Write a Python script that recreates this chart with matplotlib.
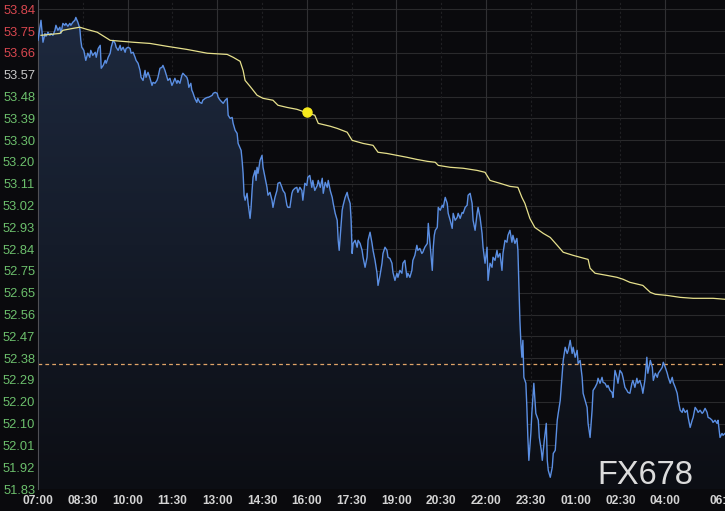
import matplotlib
matplotlib.use("Agg")
import matplotlib.pyplot as plt
import numpy as np
from matplotlib.colors import LinearSegmentedColormap

# minutes after 07:00 and price for the intraday line
t_min = [0, 6, 10, 14, 16, 20, 24, 26, 30, 34, 36, 40, 44, 46, 50, 54, 56, 60, 64, 66,
         70, 74, 76, 80, 84, 86, 88, 92, 96, 100, 104, 106, 110, 115, 117, 121, 125, 127, 131, 135,
         137, 141, 145, 147, 151, 155, 157, 161, 165, 167, 171, 175, 177, 181, 185, 187, 191, 195, 197, 201,
         205, 207, 211, 215, 217, 221, 225, 229, 231, 235, 239, 241, 245, 249, 251, 255, 259, 261, 265, 269,
         271, 275, 279, 281, 285, 289, 291, 295, 299, 301, 303, 307, 309, 311, 315, 319, 321, 325, 329, 331,
         336, 340, 342, 346, 350, 352, 356, 360, 362, 366, 370, 372, 376, 380, 382, 386, 390, 392, 396, 400,
         402, 406, 408, 410, 412, 414, 416, 420, 422, 426, 428, 430, 432, 436, 438, 440, 442, 446, 450, 452,
         456, 460, 462, 466, 470, 472, 476, 480, 482, 486, 490, 492, 496, 500, 502, 506, 510, 512, 516, 520,
         522, 526, 530, 532, 536, 540, 542, 546, 550, 552, 556, 561, 563, 567, 571, 573, 577, 581, 583, 587,
         591, 593, 597, 601, 603, 605, 607, 611, 613, 617, 621, 623, 627, 629, 631, 633, 637, 641, 643, 647,
         651, 653, 657, 661, 663, 667, 671, 673, 677, 681, 683, 687, 691, 693, 697, 701, 703, 707, 711, 713,
         717, 721, 723, 727, 731, 733, 737, 741, 743, 747, 751, 753, 757, 761, 763, 767, 771, 773, 777, 782,
         784, 788, 792, 794, 796, 798, 802, 804, 808, 812, 814, 818, 822, 824, 828, 832, 834, 838, 842, 844,
         848, 852, 854, 858, 862, 864, 868, 872, 874, 878, 882, 884, 888, 892, 894, 898, 902, 904, 908, 912,
         914, 918, 922, 924, 928, 932, 934, 938, 942, 944, 948, 952, 954, 958, 962, 964, 966, 968, 970, 972,
         974, 976, 980, 982, 984, 986, 990, 992, 996, 1000, 1005, 1007, 1011, 1013, 1017, 1021, 1023, 1025, 1029, 1033,
         1035, 1039, 1043, 1045, 1049, 1053, 1055, 1059, 1063, 1065, 1069, 1073, 1075, 1079, 1083, 1085, 1089, 1093, 1095, 1099,
         1103, 1105, 1109, 1113, 1115, 1119, 1123, 1125, 1129, 1133, 1135, 1139, 1143, 1145, 1149, 1153, 1155, 1159, 1163, 1165,
         1169, 1173, 1175, 1179, 1183, 1185, 1189, 1193, 1195, 1199, 1203, 1205, 1209, 1213, 1215, 1219, 1223, 1225, 1230, 1234,
         1236, 1240, 1244, 1246, 1250, 1254, 1256, 1260, 1264, 1266, 1270, 1274, 1276, 1280, 1284, 1286, 1290, 1294, 1296, 1300,
         1304, 1306, 1310, 1314, 1316, 1320, 1324, 1326, 1330, 1334, 1336, 1340, 1344, 1346, 1350, 1354, 1356, 1360, 1364, 1366,
         1370, 1374, 1376, 1380]
price = [53.710, 53.794, 53.702, 53.739, 53.727, 53.744, 53.731, 53.739, 53.731, 53.752, 53.773, 53.752, 53.765, 53.739, 53.781, 53.773, 53.781, 53.769, 53.781, 53.773,
         53.786, 53.794, 53.806, 53.786, 53.760, 53.710, 53.681, 53.668, 53.626, 53.656, 53.639, 53.668, 53.647, 53.660, 53.639, 53.676, 53.689, 53.593, 53.605, 53.626,
         53.614, 53.639, 53.656, 53.681, 53.710, 53.697, 53.681, 53.668, 53.689, 53.668, 53.681, 53.660, 53.676, 53.681, 53.676, 53.656, 53.660, 53.639, 53.626, 53.614,
         53.584, 53.555, 53.542, 53.584, 53.555, 53.576, 53.551, 53.521, 53.534, 53.530, 53.542, 53.555, 53.593, 53.597, 53.605, 53.584, 53.555, 53.542, 53.551, 53.521,
         53.530, 53.551, 53.530, 53.542, 53.530, 53.563, 53.572, 53.563, 53.555, 53.542, 53.513, 53.530, 53.501, 53.492, 53.467, 53.450, 53.467, 53.450, 53.446, 53.459,
         53.467, 53.471, 53.471, 53.475, 53.480, 53.488, 53.492, 53.488, 53.471, 53.459, 53.450, 53.446, 53.459, 53.467, 53.396, 53.383, 53.387, 53.362, 53.333, 53.320,
         53.278, 53.258, 53.249, 53.207, 53.153, 53.061, 53.040, 53.069, 53.027, 52.964, 53.010, 53.081, 53.136, 53.165, 53.123, 53.178, 53.153, 53.207, 53.228, 53.178,
         53.136, 53.094, 53.061, 53.073, 53.040, 53.010, 53.052, 53.081, 53.111, 53.115, 53.094, 53.081, 53.069, 53.019, 53.010, 53.010, 53.069, 53.081, 53.090, 53.094,
         53.073, 53.094, 53.081, 53.040, 53.111, 53.102, 53.136, 53.144, 53.094, 53.123, 53.081, 53.102, 53.123, 53.094, 53.132, 53.069, 53.115, 53.094, 53.123, 53.081,
         53.052, 53.027, 52.985, 52.956, 52.872, 52.830, 52.884, 52.998, 53.019, 53.052, 53.073, 53.052, 53.027, 52.956, 52.817, 52.859, 52.872, 52.843, 52.872, 52.859,
         52.830, 52.801, 52.759, 52.801, 52.872, 52.906, 52.859, 52.830, 52.788, 52.734, 52.683, 52.725, 52.776, 52.817, 52.843, 52.830, 52.801, 52.796, 52.776, 52.738,
         52.704, 52.734, 52.717, 52.746, 52.734, 52.776, 52.788, 52.717, 52.734, 52.717, 52.746, 52.788, 52.809, 52.851, 52.830, 52.838, 52.817, 52.822, 52.843, 52.859,
         52.943, 52.843, 52.746, 52.843, 52.893, 52.914, 52.926, 53.010, 52.998, 53.019, 53.010, 53.052, 53.027, 52.985, 52.956, 52.922, 52.985, 52.956, 52.968, 52.985,
         52.964, 52.989, 52.985, 53.010, 53.019, 53.061, 53.069, 53.027, 52.956, 52.914, 52.985, 53.010, 52.968, 52.901, 52.843, 52.776, 52.843, 52.704, 52.776, 52.759,
         52.801, 52.788, 52.830, 52.801, 52.817, 52.746, 52.817, 52.872, 52.864, 52.893, 52.914, 52.864, 52.893, 52.859, 52.880, 52.830, 52.675, 52.537, 52.440, 52.382,
         52.453, 52.298, 52.273, 52.172, 52.046, 51.950, 52.063, 52.147, 52.273, 52.147, 52.118, 52.046, 51.992, 51.950, 52.034, 52.105, 51.950, 51.908, 51.879, 51.921,
         51.979, 51.992, 52.118, 52.147, 52.201, 52.315, 52.369, 52.424, 52.398, 52.411, 52.453, 52.398, 52.424, 52.382, 52.411, 52.356, 52.369, 52.298, 52.231, 52.201,
         52.172, 52.105, 52.046, 52.160, 52.243, 52.256, 52.273, 52.294, 52.273, 52.298, 52.277, 52.273, 52.256, 52.264, 52.243, 52.235, 52.214, 52.327, 52.298, 52.273,
         52.327, 52.315, 52.298, 52.256, 52.243, 52.235, 52.231, 52.273, 52.285, 52.256, 52.294, 52.273, 52.285, 52.256, 52.231, 52.285, 52.382, 52.315, 52.369, 52.340,
         52.285, 52.315, 52.298, 52.315, 52.327, 52.340, 52.361, 52.340, 52.315, 52.298, 52.273, 52.298, 52.277, 52.256, 52.231, 52.201, 52.160, 52.151, 52.168, 52.151,
         52.160, 52.130, 52.088, 52.118, 52.130, 52.172, 52.160, 52.151, 52.160, 52.147, 52.151, 52.168, 52.151, 52.130, 52.126, 52.118, 52.109, 52.118, 52.105, 52.118,
         52.046, 52.063, 52.055, 52.063]

# average-price line
ma_min = [6, 44, 50, 70, 84, 98, 119, 139, 145, 191, 225, 259, 299, 340, 380, 392, 406, 412, 416, 426,
          440, 452, 472, 482, 500, 520, 538, 556, 563, 587, 601, 621, 631, 653, 673, 683, 701, 721, 741, 761,
          782, 798, 804, 828, 854, 882, 898, 908, 928, 948, 964, 972, 978, 988, 998, 1015, 1029, 1043, 1055, 1075,
          1089, 1105, 1109, 1119, 1143, 1163, 1175, 1189, 1215, 1230, 1240, 1264, 1290, 1316, 1356, 1380]
ma_val = [53.731, 53.739, 53.752, 53.760, 53.765, 53.756, 53.744, 53.718, 53.710, 53.702, 53.697, 53.685, 53.672, 53.656, 53.651, 53.639, 53.622, 53.584, 53.542, 53.517,
          53.480, 53.467, 53.459, 53.438, 53.429, 53.421, 53.408, 53.396, 53.362, 53.350, 53.341, 53.325, 53.291, 53.278, 53.270, 53.241, 53.236, 53.228, 53.220, 53.211,
          53.203, 53.199, 53.186, 53.178, 53.174, 53.165, 53.157, 53.123, 53.111, 53.098, 53.094, 53.052, 53.027, 52.964, 52.926, 52.901, 52.884, 52.851, 52.822, 52.809,
          52.801, 52.792, 52.755, 52.734, 52.725, 52.717, 52.709, 52.696, 52.683, 52.654, 52.646, 52.641, 52.633, 52.629, 52.629, 52.625]

dot_min, dot_val = 540, 53.408
prev_close = 52.352

y_labels = ["51.83", "51.92", "52.01", "52.10", "52.20", "52.29", "52.38", "52.47", "52.56", "52.65",
            "52.75", "52.84", "52.93", "53.02", "53.11", "53.20", "53.30", "53.39", "53.48", "53.57",
            "53.66", "53.75", "53.84"]
x_labels = ["07:00", "08:30", "10:00", "11:30", "13:00", "14:30", "16:00", "17:30", "19:00", "20:30",
            "22:00", "23:30", "01:00", "02:30", "04:00", "06:00"]
x_pos = [0, 90, 180, 270, 360, 450, 540, 630, 720, 810, 900, 990, 1080, 1170, 1260, 1380]

bg = "#0a0a0d"
fig = plt.figure(figsize=(7.25, 5.11), dpi=100, facecolor=bg)
ax = fig.add_axes([38 / 725, 22 / 511, 687 / 725, 489 / 511])
ax.set_facecolor(bg)
ymin, ymax = 51.83, 53.879
ax.set_xlim(0, 1380)
ax.set_ylim(ymin, ymax)

# grid
y_ticks = np.linspace(51.83, 53.84, len(y_labels))
for yv in y_ticks:
    ax.axhline(yv, color="#2a2a2c", lw=0.8, zorder=0)
for i, xv in enumerate(x_pos[:-1]):
    if i % 2 == 0:
        ax.axvline(xv, color="#303033", lw=0.8, zorder=0)
    else:
        ax.axvline(xv, color="#202023", lw=0.8, ls=(0, (2, 2)), zorder=0)

# gradient fill under the price line
poly = ax.fill_between(t_min, price, ymin, facecolor="none", edgecolor="none")
cmap = LinearSegmentedColormap.from_list("fill", ["#0c0e14", "#1e2a40"])
grad = np.linspace(0, 1, 256).reshape(-1, 1)
im = ax.imshow(grad, extent=[0, 1380, ymin, ymax], origin="lower", aspect="auto",
               cmap=cmap, zorder=1)
im.set_clip_path(poly.get_paths()[0], transform=ax.transData)

ax.plot(t_min, price, color="#5b8fe3", lw=1.0, zorder=3)
ax.plot(ma_min, ma_val, color="#e6e08c", lw=0.9, zorder=3)
ax.plot([dot_min], [dot_val], "o", color="#f7ea1c", ms=6.5, zorder=4)
ax.axhline(prev_close, color="#e0a468", lw=0.9, ls=(0, (3, 2.5)), zorder=2)

# axes styling
for s in ["top", "right", "bottom"]:
    ax.spines[s].set_visible(False)
ax.spines["left"].set_color("#505055")
ax.set_yticks(y_ticks)
ax.set_yticklabels(y_labels, fontsize=9.3, family="Liberation Sans")
ax.set_xticks(x_pos)
ax.set_xticklabels(x_labels, fontsize=8.6, family="Liberation Sans", fontweight="bold",
                   color="#d4d4d4")
ax.tick_params(axis="both", length=0)
ax.tick_params(axis="y", pad=2)
ax.tick_params(axis="x", pad=4)
for lbl in ax.get_yticklabels():
    v = float(lbl.get_text())
    if v > 53.6:
        lbl.set_color("#d8474f")
    elif v > 53.5:
        lbl.set_color("#c8c8c8")
    else:
        lbl.set_color("#6cbf6c")

fig.text(645 / 725, 1 - 475 / 511, "FX678", fontsize=23.5, family="Liberation Sans",
         color="#dcdcdc", ha="center", va="center")

fig.savefig("out.png", dpi=100, facecolor=bg)
